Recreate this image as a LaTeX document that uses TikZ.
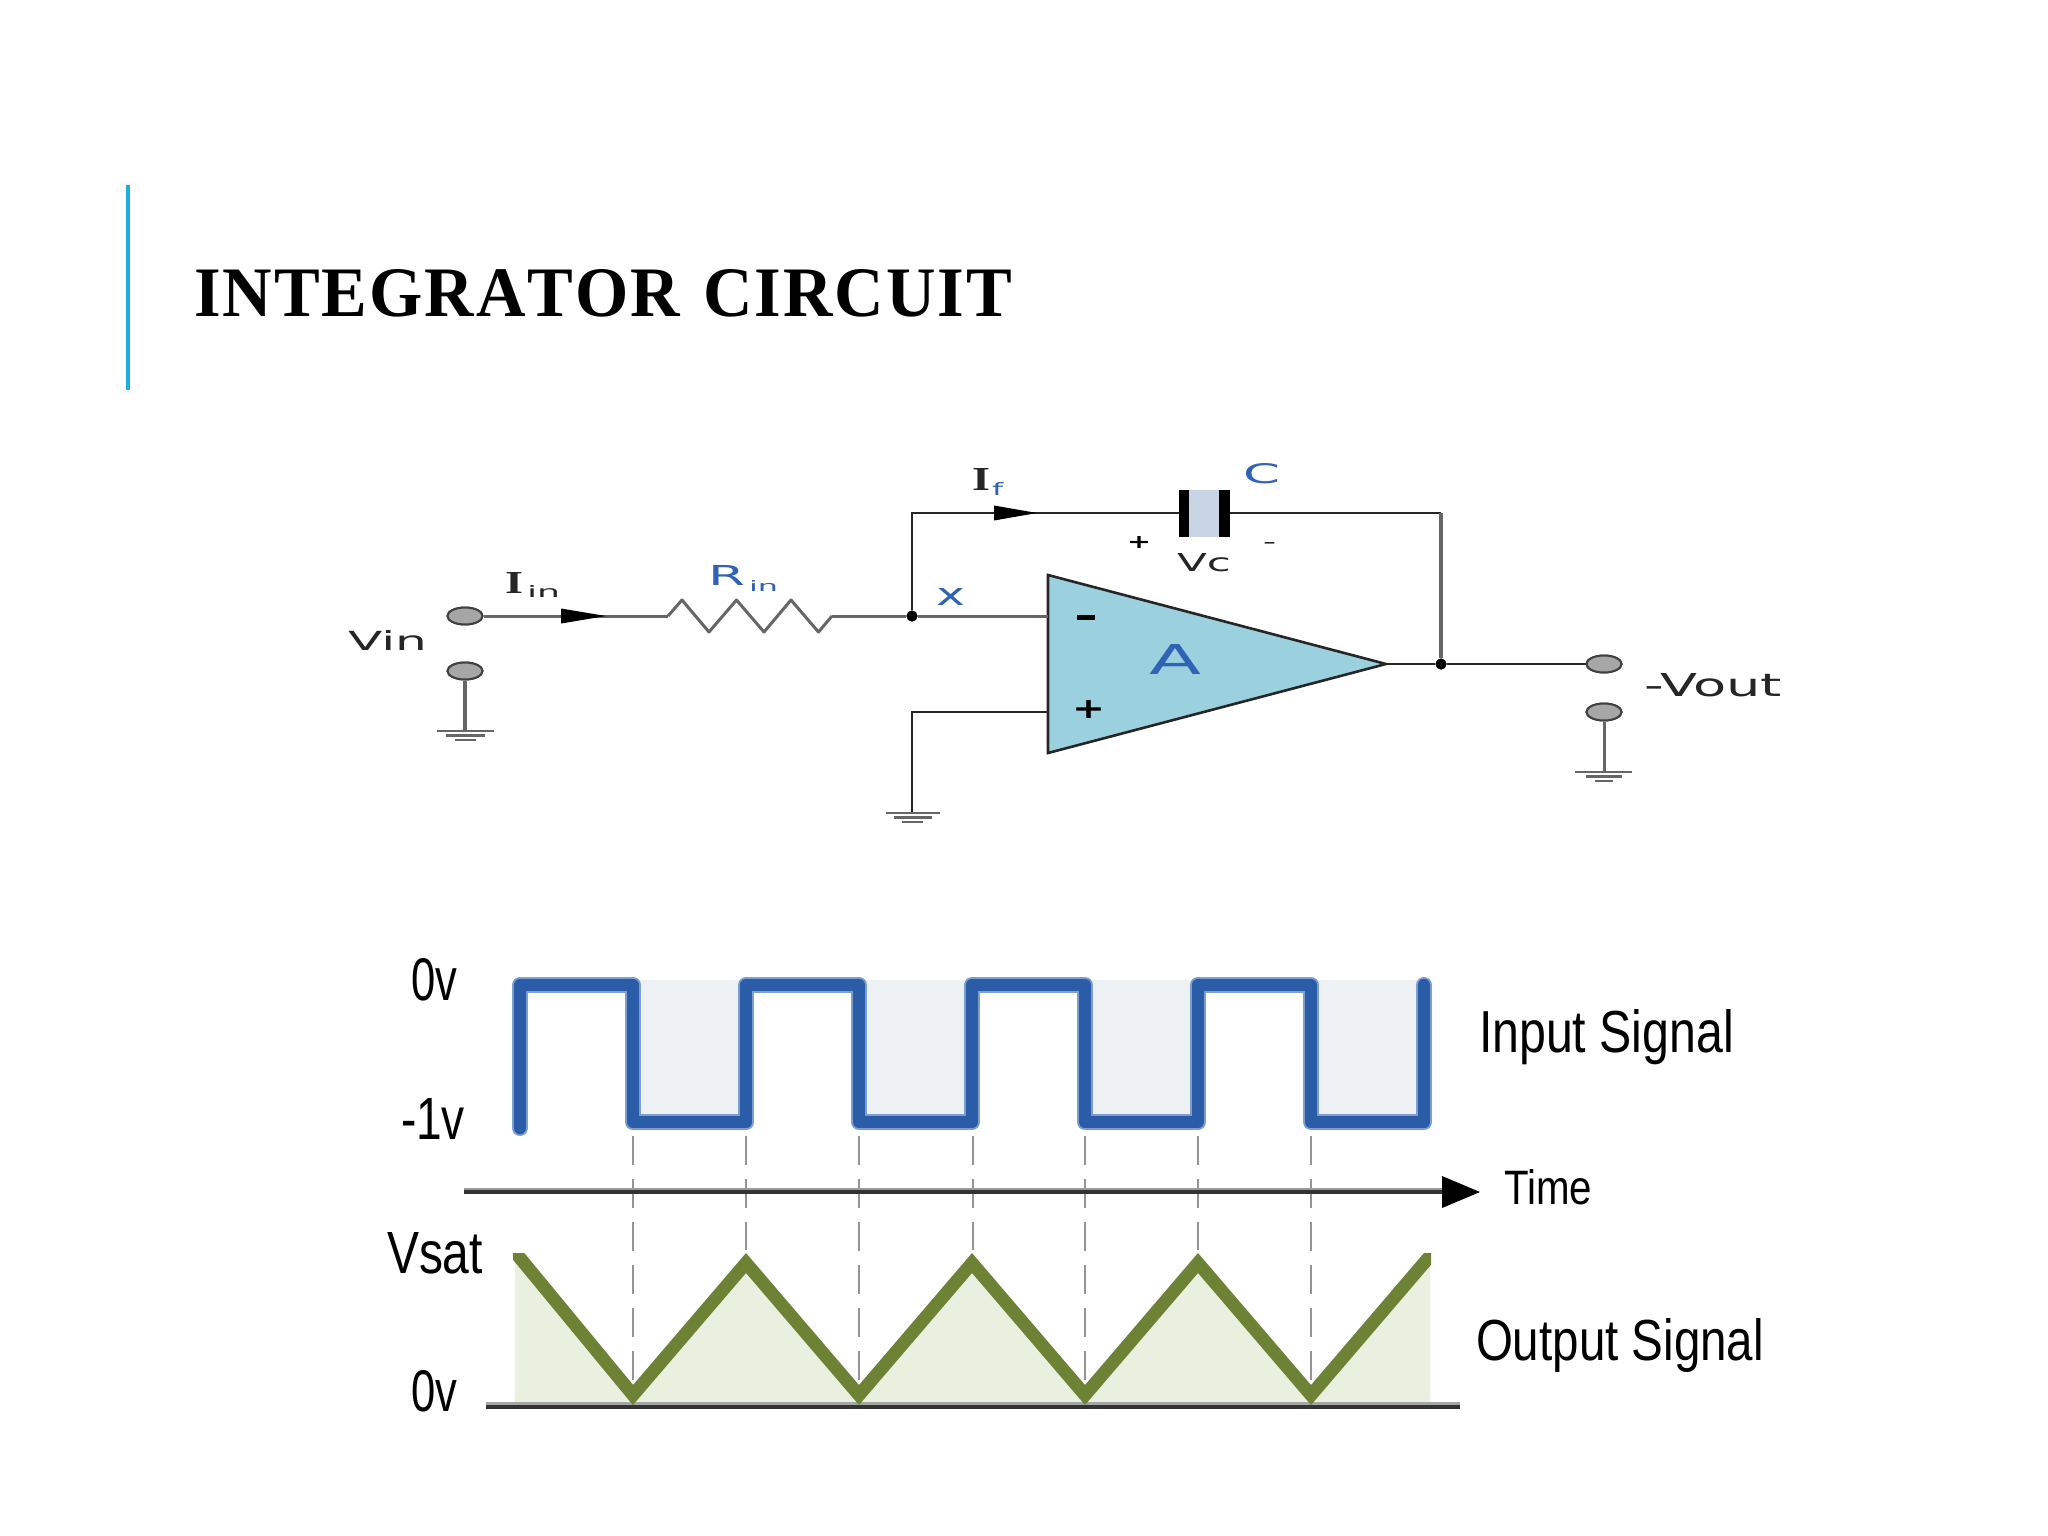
\documentclass[tikz,border=0pt]{standalone}
\usepackage{graphicx}
\usepackage{fontspec}
\setmainfont{Liberation Serif}
\setsansfont{Liberation Sans}
\newfontfamily\verd{DejaVu Sans}
\usetikzlibrary{arrows.meta,shapes.geometric}
\definecolor{barblue}{HTML}{1CADE4}
\definecolor{txtblue}{HTML}{2F63B5}
\definecolor{opfill}{HTML}{9BD1DF}
\definecolor{capfill}{HTML}{C8D3E3}
\definecolor{wave}{HTML}{2A5CA8}
\definecolor{wavelt}{HTML}{7C9FD0}
\definecolor{olive}{HTML}{6E8236}
\definecolor{oliveft}{HTML}{E9F0DF}
\definecolor{greyft}{HTML}{EEF1F4}
\definecolor{termfill}{HTML}{A6A6A6}
\newcommand{\fit}[3]{\resizebox{#1pt}{#2pt}{#3}}
\tikzset{
  x=1pt,y=-1pt,
  lbl/.style={inner sep=0pt,outer sep=0pt,anchor=base west},
  wire/.style={draw=black!85,line width=2.6pt},
  wiregrey/.style={draw=black!60,line width=3pt},
  terminal/.style={ellipse,draw=black!75,line width=2pt,fill=termfill,minimum width=35pt,minimum height=17pt,inner sep=0pt},
  junction/.style={circle,fill=black,minimum size=11pt,inner sep=0pt},
  gndbar/.style={draw=black!60,line width=2.4pt},
  dashline/.style={draw=black!42,line width=2.4pt,dash pattern=on 29pt off 14pt},
  axishalo/.style={draw=black!40,line width=6pt},
  axisline/.style={draw=black!80,line width=3.2pt},
}
\begin{document}
\begin{tikzpicture}
\useasboundingbox (0,0) rectangle (2048,1536);
\fill[white] (0,0) rectangle (2048,1536);
% title
\fill[barblue] (126,185) rectangle (130,390);
\node[lbl] (title) at (194,316) {\fit{818}{47}{\fontsize{70}{70}\selectfont\bfseries\rmfamily I\kern2pt N\kern2pt T\kern2pt E\kern2pt G\kern2pt R\kern2pt A\kern2pt T\kern2pt O\kern2pt R\kern24pt C\kern2pt I\kern2pt R\kern2pt C\kern2pt U\kern2pt I\kern2pt T}};
% waveform backgrounds
\foreach \a in {633,859,1085,1311}
  \fill[greyft] (\a,980) rectangle (\a+113,1116);
\fill[oliveft] (515,1256) -- (520,1258) -- (633,1395) -- (746,1263) -- (859,1395) -- (972,1263) -- (1085,1395) -- (1198,1263) -- (1311,1395) -- (1424,1263) -- (1430,1256) -- (1430,1407) -- (515,1407) -- cycle;
% dashed guides
\coordinate (d1a) at (633,1136); \coordinate (d1b) at (633,1395);
\coordinate (d2a) at (746,1136); \coordinate (d2b) at (746,1250);
\coordinate (d3a) at (859,1136); \coordinate (d3b) at (859,1395);
\coordinate (d4a) at (973,1136); \coordinate (d4b) at (973,1250);
\coordinate (d5a) at (1085,1136); \coordinate (d5b) at (1085,1395);
\coordinate (d6a) at (1198,1136); \coordinate (d6b) at (1198,1250);
\coordinate (d7a) at (1311,1136); \coordinate (d7b) at (1311,1395);
\foreach \i in {1,...,7} \draw[dashline] (d\i a) -- (d\i b);
% time axis and baseline
\coordinate (axs) at (464,1190.5); \coordinate (axe) at (1445,1190.5);
\draw[axishalo] (axs) -- (axe);
\coordinate (axs2) at (464,1192); \coordinate (axe2) at (1480,1192);
\draw[axisline] (axs2) -- (1445,1192);
\fill[black] (1442,1176) -- (axe2) -- (1442,1208) -- cycle;
\coordinate (bls) at (486,1405); \coordinate (ble) at (1460,1405);
\draw[axishalo,draw=black!35] (bls) -- (ble);
\coordinate (bls2) at (486,1407); \coordinate (ble2) at (1460,1407);
\draw[axisline] (bls2) -- (ble2);
% square wave
\foreach \c/\w in {wavelt/16pt,wave/12.5pt}
\draw[\c,line width=\w,line join=round,line cap=round] (520,1128) -- (520,985) -- (633,985) -- (633,1122) -- (746,1122) -- (746,985) -- (859,985) -- (859,1122) -- (972,1122) -- (972,985) -- (1085,985) -- (1085,1122) -- (1198,1122) -- (1198,985) -- (1311,985) -- (1311,1122) -- (1424,1122) -- (1424,985);
% triangle wave
\begin{scope}
\clip (513,1253) rectangle (1431,1420);
\draw[olive,line width=13pt,line join=miter,miter limit=10] (510,1246) -- (520,1258) -- (633,1395) -- (746,1263) -- (859,1395) -- (972,1263) -- (1085,1395) -- (1198,1263) -- (1311,1395) -- (1424,1263) -- (1436,1249);
\end{scope}
% waveform labels
\node[lbl] (l0a) at (411,1000) {\fit{46}{42}{\sffamily 0v}};
\node[lbl] (l1v) at (401,1139) {\fit{64}{41}{\sffamily -1v}};
\node[lbl] (lvs) at (387,1273) {\fit{96}{41}{\sffamily Vsat}};
\node[lbl] (l0b) at (411,1411) {\fit{46}{41}{\sffamily 0v}};
\node[lbl] (lin) at (1479,1052) {\fit{255}{43}{\sffamily Input Signal}};
\node[lbl] (lti) at (1504,1204) {\fit{88}{35}{\sffamily Time}};
\node[lbl] (lou) at (1476,1360) {\fit{288}{42}{\sffamily Output Signal}};
% circuit nodes
\node[terminal] (t1) at (465,616) {};
\node[terminal] (t2) at (465,671) {};
\node[terminal] (t3) at (1604,664) {};
\node[terminal] (t4) at (1604,712) {};
\node[junction] (jx) at (912,616) {};
\node[junction] (jo) at (1441,664) {};
\coordinate (rs) at (668,616); \coordinate (re) at (832,616);
\coordinate (g1) at (465,731); \coordinate (g2) at (912,813); \coordinate (g3) at (1604,772);
\coordinate (topl) at (912,513); \coordinate (topr) at (1441,513);
\coordinate (c1) at (1184,513); \coordinate (c2) at (1224.5,513);
\coordinate (oin) at (1048,616); \coordinate (oip) at (1048,712); \coordinate (gtop) at (912,712);
\coordinate (otip) at (1386,664);
% op amp
\filldraw[fill=opfill,draw=black!85,line width=2.6pt,line join=miter] (1048,575) -- (1048,753) -- (otip) -- cycle;
% wires
\draw[wiregrey] (t1) -- (rs);
\draw[wiregrey,line join=round] (rs) -- (682,600) -- (709,632) -- (736.5,600) -- (764,632) -- (791,600) -- (818.5,632) -- (re);
\draw[wiregrey] (re) -- (jx);
\draw[wiregrey] (jx) -- (oin);
\draw[wire] (jx) -- (topl) -- (c1);
\draw[wire] (c2) -- (topr);
\draw[wiregrey,line width=3.6pt] (topr) -- (jo);
\draw[wire] (otip) -- (jo) -- (t3);
\draw[wire] (oip) -- (gtop) -- (g2);
\draw[wiregrey,line width=3.6pt] (t2) -- (g1);
\draw[wiregrey] (t4) -- (g3);
% redraw terminals on top
\node[terminal] at (t1) {};
\node[terminal] at (t2) {};
\node[terminal] at (t3) {};
\node[terminal] at (t4) {};
\node[junction] at (jx) {};
\node[junction] at (jo) {};
% flow arrows
\coordinate (a1s) at (561,616); \coordinate (a1e) at (606,616);
\coordinate (a2s) at (994,513); \coordinate (a2e) at (1037,513);
\fill[black] (a1s) ++(0,-7.5) -- (a1e) -- (561,623.5) -- cycle;
\fill[black] (a2s) ++(0,-7.5) -- (a2e) -- (994,520.5) -- cycle;
% capacitor
\fill[capfill] (1189,490) rectangle (1219,537);
\fill[black] (1179,490) rectangle (1189,537);
\fill[black] (1219,490) rectangle (1230,537);
% grounds
\draw[gndbar] (437,731) -- (494,731); \draw[gndbar] (446,735.5) -- (485,735.5); \draw[gndbar] (455,740) -- (476,740);
\draw[gndbar] (886,813) -- (940,813); \draw[gndbar] (894,817.5) -- (932,817.5); \draw[gndbar] (902,822) -- (923,822);
\draw[gndbar] (1575,772) -- (1632,772); \draw[gndbar] (1586,776.5) -- (1622,776.5); \draw[gndbar] (1595,781) -- (1613,781);
% circuit labels
\node[lbl,text=black!85] (lvin) at (348,650) {\fit{79}{20}{\verd Vin}};
\node[lbl,text=black!85] (lii) at (505,593) {\fit{18}{21}{\rmfamily\bfseries I}};
\node[lbl,text=black!85] (liis) at (527,597) {\fit{33}{12}{\verd in}};
\node[lbl,text=txtblue] (lr) at (708,585) {\fit{37}{20}{\verd R}};
\node[lbl,text=txtblue] (lrs) at (749,591) {\fit{29}{11}{\verd in}};
\node[lbl,text=txtblue] (lx) at (936,605) {\fit{29}{17}{\verd x}};
\node[lbl,text=black!85] (lif) at (972,490) {\fit{18}{22}{\rmfamily\bfseries I}};
\node[lbl,text=txtblue] (lifs) at (992,495) {\fit{11}{13}{\verd f}};
\node[lbl,text=txtblue] (lc) at (1243,483) {\fit{37}{20}{\verd C}};
\node[lbl,text=black!85] (lvc) at (1177,571) {\fit{54}{18}{\verd Vc}};
\node[lbl,text=black] (lcp) at (1127,548) {\fit{24}{12}{\verd\bfseries +}};
\node[lbl,text=black!85] (lcm) at (1263,546) {\fit{13}{4}{\verd\bfseries -}};
\node[lbl,text=txtblue] (la) at (1149,674) {\fit{52}{30}{\verd A}};
\node[lbl,text=black] (lm) at (1077,620) {\fit{18}{5}{\rule{10pt}{3pt}}};
\node[lbl,text=black] (lp) at (1072,718) {\fit{33}{18}{\verd\bfseries +}};
\node[lbl,text=black!85] (lvo) at (1644,696) {\fit{138}{23}{\verd -Vout}};
\end{tikzpicture}
\end{document}
